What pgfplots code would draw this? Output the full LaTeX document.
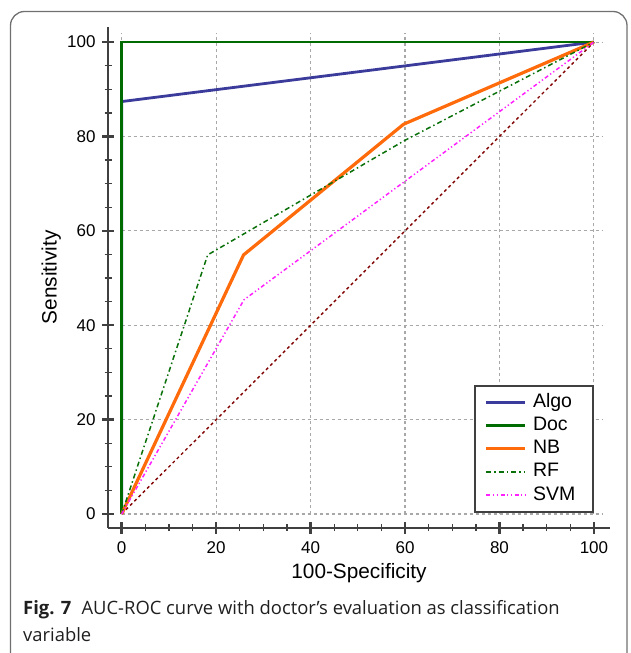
\documentclass[border=0pt]{standalone}
\usepackage{fontspec}
\setmainfont{Liberation Sans}
\newfontfamily\capfont{Open Sans}
\usepackage{pgfplots}
\pgfplotsset{compat=1.18}

\definecolor{algo}{HTML}{3B3B9B}
\definecolor{doc}{HTML}{006B00}
\definecolor{nb}{HTML}{FF6A0A}
\definecolor{rf}{HTML}{0A700A}
\definecolor{svm}{HTML}{FF22FF}
\definecolor{diag}{HTML}{800000}
\definecolor{axisgray}{HTML}{404040}
\definecolor{gridgray}{HTML}{A8A8A8}
\definecolor{framegray}{HTML}{707070}

\begin{document}
\begin{tikzpicture}
\useasboundingbox (0pt,0pt) rectangle (630pt,653pt);
\clip (0pt,0pt) rectangle (630pt,653pt);
% panel frame, open at the bottom edge
\draw[framegray, line width=1.3pt, rounded corners=14pt] (10.5pt,-40pt) rectangle (627pt,641.5pt);

\begin{axis}[
  at={(108pt,125.3pt)}, anchor=south west,
  scale only axis, width=502pt, height=500.7pt,
  xmin=-2.9, xmax=103.4, ymin=-2.9, ymax=103.2,
  axis lines=left,
  axis line style={-, line width=2.2pt, axisgray},
  xtick={0,20,...,100}, ytick={0,20,...,100},
  minor x tick num=3, minor y tick num=3,
  major tick length=12pt, minor tick length=7pt,
  major tick style={line width=2.4pt, axisgray},
  minor tick style={line width=1.3pt, axisgray},
  /pgf/number format/assume math mode=true,
  tick label style={font=\fontsize{17}{20}\selectfont},
  xticklabel shift=4.6pt, yticklabel shift=3pt,
  xlabel={100-Specificity}, ylabel={Sensitivity},
  label style={font=\fontsize{20.8}{24}\selectfont},
  xlabel style={at={(axis description cs:0.5,-0.0639)}, anchor=north},
  ylabel style={at={(axis description cs:-0.0865,0.5)}, anchor=south},
  legend cell align=left,
  legend image code/.code={\draw[#1] (0pt,0pt) -- (39pt,0pt);},
  legend style={at={(axis cs:100,0.3)}, anchor=south east,
    draw=axisgray, line width=1.8pt, fill=white,
    font=\fontsize{19.5}{22}\selectfont,
    inner xsep=10pt, inner ysep=5pt, column sep=3pt, row sep=0pt,
    nodes={text height=14pt, text depth=4pt, inner ysep=2.6pt, inner xsep=3pt,
           text width=47pt, align=left}},
]
% dashed grid over the data range only
\pgfplotsinvokeforeach{0,20,40,60,80,100}{
  \draw[gridgray, line width=1.1pt, dash pattern=on 3pt off 3pt] (axis cs:#1,0) -- (axis cs:#1,102);
  \draw[gridgray, line width=1.1pt, dash pattern=on 3pt off 3pt] (axis cs:0,#1) -- (axis cs:102,#1);
}
% chance diagonal
\addplot[diag, line width=1.4pt, dash pattern=on 3pt off 3pt, forget plot]
  coordinates {(0,0) (100,100)};

\addplot[algo, line width=2.8pt] coordinates {(0,0) (0,87.4) (100,100)};
\addlegendentry{Algo}
\addplot[doc, line width=2.8pt] coordinates {(0,0) (0,100) (100,100)};
\addlegendentry{Doc}
\addplot[nb, line width=3.2pt] coordinates {(0,0) (25.8,54.9) (59.7,82.6) (100,100)};
\addlegendentry{NB}
\addplot[rf, line width=1.5pt, dash pattern=on 5pt off 3pt on 1.5pt off 3pt]
  coordinates {(0,0) (18.2,54.9) (60,79.2) (100,100)};
\addlegendentry{RF}
\addplot[svm, line width=1.5pt, dash pattern=on 4pt off 2.5pt on 1.3pt off 2.5pt on 1.3pt off 2.5pt]
  coordinates {(0,0) (25.9,45.4) (100,100)};
\addlegendentry{SVM}
\end{axis}

\node[anchor=base west, inner sep=0pt, text=black!88, font=\capfont\fontsize{18.4}{22}\selectfont]
  at (23pt,38pt) {\textbf{Fig. 7}\hspace{0.55em}AUC-ROC curve with doctor’s evaluation as classification};
\node[anchor=base west, inner sep=0pt, text=black!88, font=\capfont\fontsize{18.4}{22}\selectfont]
  at (23pt,11pt) {variable};
\end{tikzpicture}
\end{document}
